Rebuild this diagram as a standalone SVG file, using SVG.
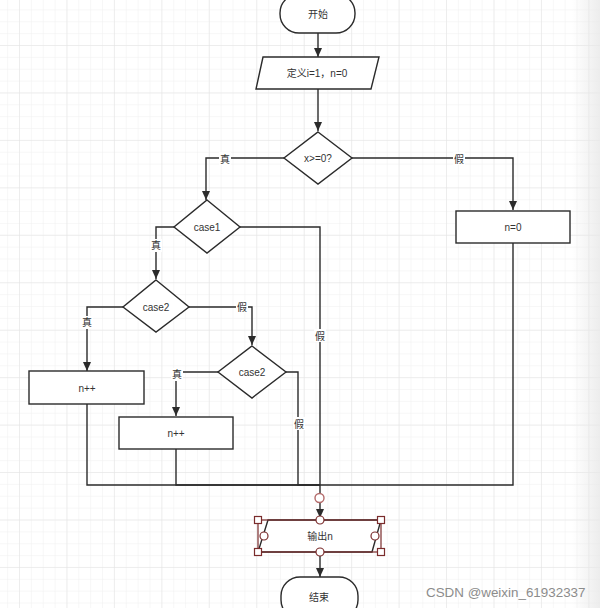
<svg xmlns="http://www.w3.org/2000/svg" width="600" height="608" viewBox="0 0 600 608">
<defs>
  <pattern id="minor" patternUnits="userSpaceOnUse" x="19" y="45" width="11.8625" height="11.8625">
    <path d="M0,0 H11.8625 M0,0 V11.8625" fill="none" stroke="#efefef" stroke-width="1"/>
  </pattern>
  <pattern id="major" patternUnits="userSpaceOnUse" x="19" y="45" width="47.45" height="47.45">
    <path d="M0,0 H47.45 M0,0 V47.45" fill="none" stroke="#e3e3e3" stroke-width="1"/>
  </pattern>
  <linearGradient id="edge" x1="0" y1="0" x2="1" y2="0">
    <stop offset="0" stop-color="#e8e8e8" stop-opacity="0"/>
    <stop offset="1" stop-color="#e8e8e8" stop-opacity="0.8"/>
  </linearGradient>
  <marker id="arr" markerUnits="userSpaceOnUse" markerWidth="10" markerHeight="10" refX="9" refY="4" orient="auto">
    <path d="M0,0 L9,4 L0,8 Z" fill="#2b2b2b"/>
  </marker>
  <style>
    .shape { fill: #ffffff; stroke: #2b2b2b; stroke-width: 1.4; }
    .edge { fill: none; stroke: #2b2b2b; stroke-width: 1.4; }
    .t { font-family: "Liberation Sans", "Noto Sans CJK SC", sans-serif; font-size: 10px; fill: #333333; text-anchor: middle; dominant-baseline: central; }
    .lbl { font-family: "Liberation Sans", "Noto Sans CJK SC", sans-serif; font-size: 10px; fill: #333333; text-anchor: middle; dominant-baseline: central; }
    .lblbg { fill: #ffffff; }
    .sel { fill: none; stroke: #7a2c2c; stroke-width: 1.2; }
    .h { fill: #ffffff; stroke: #7a2c2c; stroke-width: 1.2; }
    .hc { fill: #ffffff; stroke: #b36a6a; stroke-width: 1.4; }
    .wm { font-family: "Liberation Sans", sans-serif; font-size: 13.4px; fill: #8c8c8c; }
  </style>
</defs>

<rect width="600" height="608" fill="#ffffff"/>
<rect width="600" height="608" fill="url(#minor)"/>
<rect width="600" height="608" fill="url(#major)"/>
<rect x="572" y="0" width="28" height="608" fill="url(#edge)"/>

<g id="connectors">
  <path class="edge" d="M318,33 V57" marker-end="url(#arr)"/>
  <path class="edge" d="M318,89 V131" marker-end="url(#arr)"/>
  <path class="edge" d="M284,158 H206 V200" marker-end="url(#arr)"/>
  <path class="edge" d="M352,158 H513 V210" marker-end="url(#arr)"/>
  <path class="edge" d="M174,227 H156 V279" marker-end="url(#arr)"/>
  <path class="edge" d="M240,227 H320 V518" marker-end="url(#arr)"/>
  <path class="edge" d="M123,307 H87 V371" marker-end="url(#arr)"/>
  <path class="edge" d="M189,307 H252 V345" marker-end="url(#arr)"/>
  <path class="edge" d="M218,372 H176 V416" marker-end="url(#arr)"/>
  <path class="edge" d="M286,372 H298 V485 H320"/>
  <path class="edge" d="M87,404 V485 H320"/>
  <path class="edge" d="M176,449 V485 H320"/>
  <path class="edge" d="M513,243 V485 H320"/>
  <path class="edge" d="M320,552 V577" marker-end="url(#arr)"/>

  <rect class="lblbg" x="219" y="152" width="12" height="13"/>
  <text class="lbl" x="225" y="159">真</text>
  <rect class="lblbg" x="453" y="152" width="12" height="13"/>
  <text class="lbl" x="459" y="159">假</text>
  <rect class="lblbg" x="150" y="239" width="12" height="13"/>
  <text class="lbl" x="156" y="245">真</text>
  <rect class="lblbg" x="314" y="329" width="12" height="13"/>
  <text class="lbl" x="320" y="336">假</text>
  <rect class="lblbg" x="81" y="316" width="12" height="13"/>
  <text class="lbl" x="87" y="322">真</text>
  <rect class="lblbg" x="236" y="300" width="12" height="13"/>
  <text class="lbl" x="242" y="307">假</text>
  <rect class="lblbg" x="171" y="368" width="12" height="13"/>
  <text class="lbl" x="177" y="374">真</text>
  <rect class="lblbg" x="293" y="417" width="12" height="13"/>
  <text class="lbl" x="299" y="424">假</text>
</g>

<g id="start">
  <rect class="shape" x="280" y="-6" width="75" height="39" rx="19" ry="19"/>
  <text class="t" x="318" y="14">开始</text>
</g>

<g id="init">
  <polygon class="shape" points="263,57 379,57 371,89 256,89"/>
  <text class="t" x="317" y="73">定义i=1，n=0</text>
</g>

<g id="check-x">
  <polygon class="shape" points="318,132 352,158 318,184 284,158"/>
  <text class="t" x="318" y="158">x&gt;=0?</text>
</g>

<g id="n-zero">
  <rect class="shape" x="456" y="211" width="114" height="32"/>
  <text class="t" x="513" y="227">n=0</text>
</g>

<g id="case1">
  <polygon class="shape" points="207,200 240,227 207,253 174,227"/>
  <text class="t" x="207" y="227">case1</text>
</g>

<g id="case2-a">
  <polygon class="shape" points="156,280 189,307 156,332 123,307"/>
  <text class="t" x="156" y="307">case2</text>
</g>

<g id="inc-a">
  <rect class="shape" x="29" y="371" width="115" height="33"/>
  <text class="t" x="87" y="388">n++</text>
</g>

<g id="case2-b">
  <polygon class="shape" points="252,346 286,372 252,398 218,372"/>
  <text class="t" x="252" y="372">case2</text>
</g>

<g id="inc-b">
  <rect class="shape" x="119" y="417" width="114" height="32"/>
  <text class="t" x="176" y="433">n++</text>
</g>

<g id="output">
  <polygon class="shape" points="268,520 381,520 372,552 258,552"/>
  <text class="t" x="320" y="536">输出n</text>
  <rect class="sel" x="258" y="520" width="123" height="32"/>
  <rect class="h" x="254.5" y="516.5" width="7" height="7"/>
  <rect class="h" x="377.5" y="516.5" width="7" height="7"/>
  <rect class="h" x="254.5" y="548.5" width="7" height="7"/>
  <rect class="h" x="377.5" y="548.5" width="7" height="7"/>
  <circle class="h" cx="320" cy="520" r="4"/>
  <circle class="h" cx="320" cy="552" r="4"/>
  <circle class="h" cx="264" cy="536" r="4"/>
  <circle class="h" cx="375" cy="536" r="4"/>
  <circle class="hc" cx="319.5" cy="498" r="4.5"/>
</g>

<g id="end">
  <rect class="shape" x="281" y="577" width="77" height="42" rx="19" ry="19"/>
  <text class="t" x="319" y="597">结束</text>
</g>

<text class="wm" x="426" y="597">CSDN @weixin_61932337</text>
</svg>
